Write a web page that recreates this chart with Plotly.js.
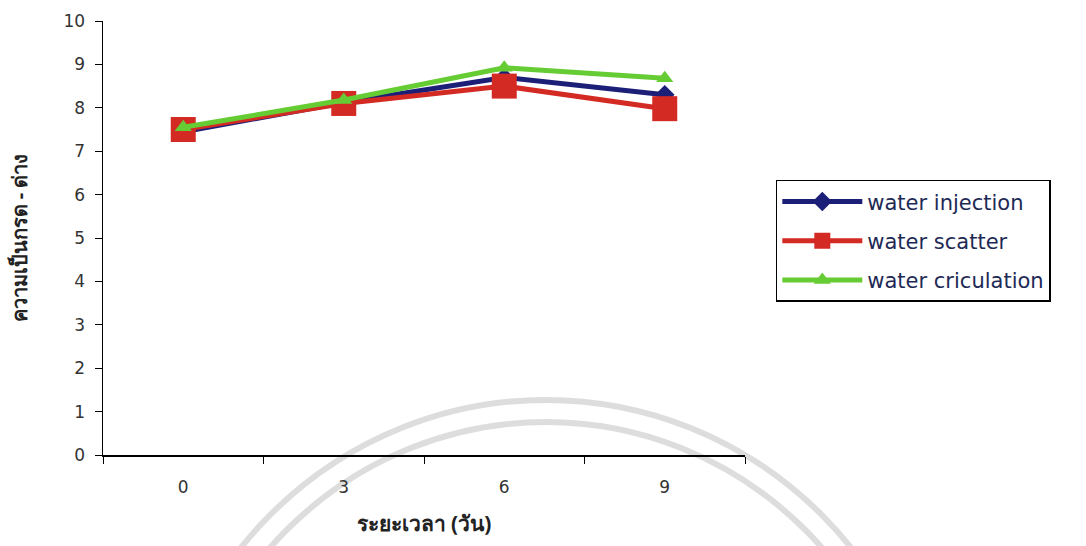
<!DOCTYPE html>
<html>
<head>
<meta charset="utf-8">
<script src="https://cdn.plot.ly/plotly-3.0.1.min.js"></script>
<style>html,body{margin:0;padding:0;background:#fff;}#chart{width:1086px;height:546px;}</style>
</head>
<body>
<div id="chart"></div>
<script>
const days = ["0", "3", "6", "9"];
const waterInjection = [7.45, 8.12, 8.70, 8.30];
const waterScatter = [7.50, 8.10, 8.50, 7.98];
const waterCirculation = [7.55, 8.18, 8.92, 8.68];
const seriesNames = ["water injection", "water scatter", "water criculation"];
const yTitle = "ความเป็นกรด - ด่าง";
const xTitle = "ระยะเวลา (วัน)";

const traces = [
  {x: days, y: waterInjection, name: seriesNames[0], legendgroup: "a", type: "scatter", mode: "lines+markers",
   line: {color: "#1c1f78", width: 5}, marker: {symbol: "diamond", size: 15, color: "#1c1f78"}},
  {x: days, y: waterScatter, name: seriesNames[1], legendgroup: "b", type: "scatter", mode: "lines+markers",
   line: {color: "#d42a24", width: 5}, marker: {symbol: "square", size: 25, color: "#d42a24"}},
  {x: days, y: waterCirculation, name: seriesNames[2], legendgroup: "c", type: "scatter", mode: "lines+markers",
   line: {color: "#66cc33", width: 5}, marker: {symbol: "triangle-up", size: 15, color: "#66cc33"}}
];

const layout = {
  width: 1086, height: 546,
  margin: {l: 103, r: 341, t: 21, b: 91},
  paper_bgcolor: "#ffffff", plot_bgcolor: "rgba(0,0,0,0)",
  font: {family: "DejaVu Sans, Arial, sans-serif", color: "#222", size: 17},
  showlegend: true,
  legend: {x: 1.048, y: 0.634, xanchor: "left", yanchor: "top", traceorder: "grouped", tracegroupgap: 9,
    bordercolor: "#000", borderwidth: 1.5, bgcolor: "#fff",
    font: {size: 21, color: "#1e2a55", family: "DejaVu Sans, Arial, sans-serif"}, itemwidth: 80},
  xaxis: {type: "category", range: [-0.5, 3.5], tickson: "boundaries", ticks: "outside", ticklen: 7,
    tickcolor: "#000", showline: true, linecolor: "#000", linewidth: 1.5, showgrid: false, zeroline: false,
    tickfont: {size: 17, color: "#333"}, ticklabelstandoff: 16,
    title: {text: xTitle, font: {size: 21, color: "#222", family: "Noto Sans, DejaVu Sans, sans-serif", weight: "bold"}, standoff: 20}},
  yaxis: {range: [0, 10], dtick: 1, ticks: "outside", ticklen: 7, tickcolor: "#000",
    showline: true, linecolor: "#000", linewidth: 1.5, showgrid: false, zeroline: false,
    tickfont: {size: 17, color: "#333"}, ticklabelstandoff: 6,
    title: {text: yTitle, font: {size: 20, color: "#222", family: "Noto Sans, DejaVu Sans, sans-serif", weight: "bold"}, standoff: 30}},
  shapes: [
    {type: "circle", xref: "paper", yref: "paper", x0: 0.08, x1: 1.30, y0: -1.70, y1: 0.127,
     line: {color: "rgba(180,180,180,0.45)", width: 6}, layer: "below"},
    {type: "circle", xref: "paper", yref: "paper", x0: 0.115, x1: 1.265, y0: -1.65, y1: 0.076,
     line: {color: "rgba(180,180,180,0.45)", width: 6}, layer: "below"}
  ]
};

Plotly.newPlot("chart", traces, layout, {displayModeBar: false, staticPlot: true});
</script>
</body>
</html>
